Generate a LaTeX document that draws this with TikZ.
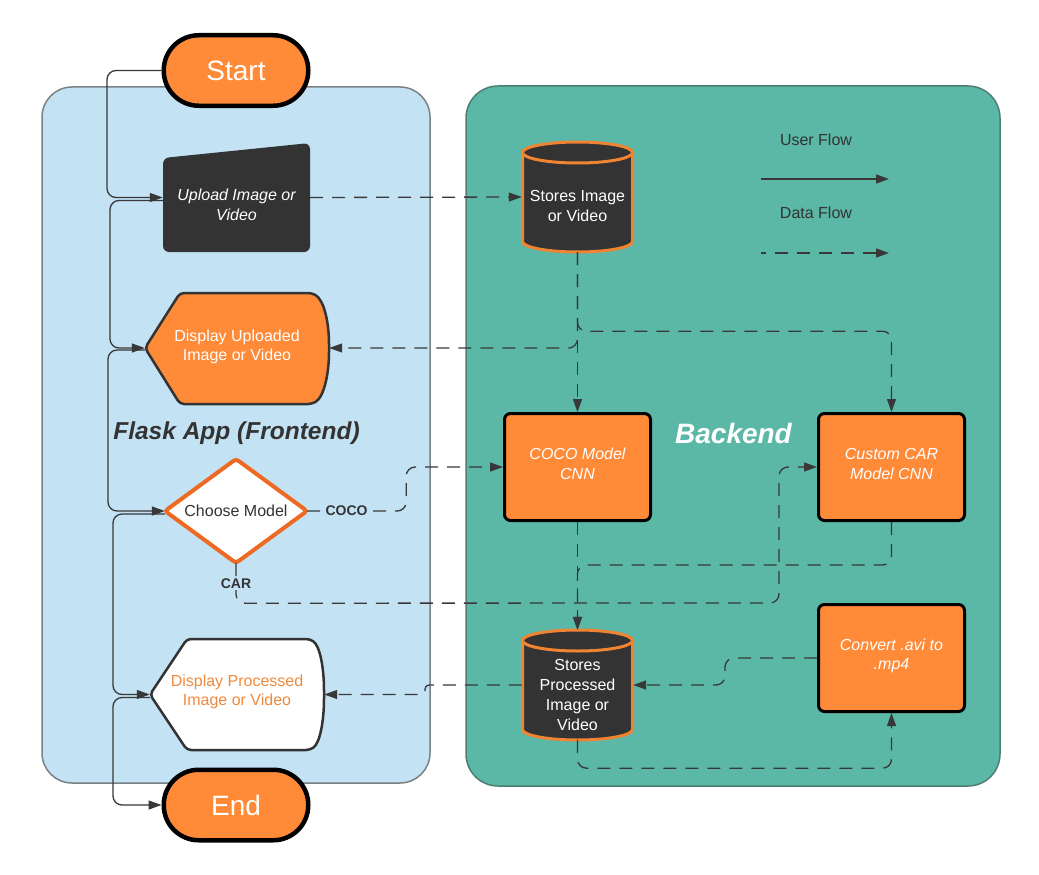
\documentclass[tikz,border=0pt]{standalone}
\usepackage{fontspec}
\setmainfont{Liberation Sans}
\usetikzlibrary{arrows.meta,calc}
\definecolor{fbg}{HTML}{C3E3F5}
\definecolor{bbg}{HTML}{5BB8A6}
\definecolor{orng}{HTML}{FF8A38}
\definecolor{dark}{HTML}{333333}
\definecolor{redor}{HTML}{EE6A22}
\definecolor{cylor}{HTML}{F08433}
\definecolor{linec}{HTML}{383838}
\definecolor{panelb}{HTML}{7A8285}
\definecolor{backb}{HTML}{4E7E76}
\definecolor{proctxt}{HTML}{F08A3E}
\tikzset{
  txt/.style={font=\fontsize{16}{19.5}\selectfont, align=center, inner sep=0pt},
  anchorbox/.style={draw=none, inner sep=0pt, minimum width=#1},
  terminal/.style={draw=black, line width=4.5pt, fill=orng, rounded corners=35pt,
    minimum width=144.5pt, minimum height=70.5pt, inner sep=0pt, text=white,
    font=\fontsize{28}{32}\selectfont},
  procbox/.style={draw=black, line width=3pt, fill=orng, rounded corners=6pt,
    minimum width=146pt, minimum height=107pt, inner sep=0pt, text=white,
    font=\fontsize{16}{19.5}\selectfont\itshape, align=center},
  tip/.style={-{Triangle[length=13pt,width=9pt]}},
  uflow/.style={draw=linec, line width=1.3pt, rounded corners=9pt, tip},
  dflow/.style={uflow, dash pattern=on 13pt off 9pt},
  lbl/.style={font=\fontsize{14}{16}\selectfont\bfseries, text=dark, fill=fbg, inner sep=1.5pt},
}
\begin{document}
\begin{tikzpicture}[x=1pt,y=-1pt]
\useasboundingbox (0,0) rectangle (1039,875);
\fill[white] (0,0) rectangle (1039,875);

% panels
\draw[fill=fbg, draw=panelb, line width=1.5pt, rounded corners=30pt] (42,87) rectangle (430,783);
\draw[fill=bbg, draw=backb, line width=1.5pt, rounded corners=32pt] (466,86) rectangle (1000,786);

% shapes
\fill[dark, rounded corners=6pt] (163,158) -- (310,143) -- (310,252) -- (163,252) -- cycle;
\draw[fill=orng, draw=dark, line width=2.5pt, rounded corners=4pt]
  (180,293) -- (312,293) .. controls (324,300) and (329,322) .. (329,348)
  .. controls (329,374) and (324,397) .. (312,404) -- (180,404) -- (145,348) -- cycle;
\draw[fill=white, draw=dark, line width=2.5pt, rounded corners=4pt]
  (187,639) -- (310,639) .. controls (320,646) and (324,668) .. (324,694.5)
  .. controls (324,721) and (320,743) .. (310,750) -- (187,750) -- (150,694.5) -- cycle;
\draw[fill=white, draw=redor, line width=4pt, rounded corners=3pt]
  (236,459) -- (307,511) -- (236,563) -- (165,511) -- cycle;
% cylinders
\foreach \cy in {142,630}{
  \draw[fill=dark, draw=cylor, line width=3pt]
    (522.5,\cy+10.5) -- (522.5,\cy+99.5)
    .. controls (522.5,\cy+105.3) and (547.1,\cy+110) .. (577.5,\cy+110)
    .. controls (607.9,\cy+110) and (632.5,\cy+105.3) .. (632.5,\cy+99.5)
    -- (632.5,\cy+10.5) -- cycle;
  \draw[fill=dark, draw=cylor, line width=3pt] (577.5,\cy+10.5) ellipse [x radius=55pt, y radius=10.5pt];
}

% nodes
\node[terminal] (start) at (236,70.5) {Start};
\node[terminal] (end) at (236,805) {End};
\node[anchorbox=147pt, minimum height=109pt] (upload) at (236.5,197.5) {};
\node[txt, text=white, font=\fontsize{16}{19.5}\selectfont\itshape] (uploadtxt) at (236.5,205) {Upload Image or\\Video};
\node[anchorbox=184pt, minimum height=111pt] (dispup) at (237,348) {};
\node[txt, text=white] (dispuptxt) at (237,347) {Display Uploaded\\Image or Video};
\node[anchorbox=142pt, minimum height=104pt] (choose) at (236,511) {};
\node[txt, text=dark] (choosetxt) at (236,511) {Choose Model};
\node[anchorbox=174pt, minimum height=111pt] (dispproc) at (237,694.5) {};
\node[txt, text=proctxt] (dispproctxt) at (237,692) {Display Processed\\Image or Video};
\node[font=\fontsize{24.5}{28}\selectfont\bfseries\itshape, text=dark, inner sep=0pt] (flask) at (236.5,433) {Flask App (Frontend)};

\node[anchorbox=111pt, minimum height=110pt] (cyl1) at (577.5,197) {};
\node[txt, text=white] (cyl1txt) at (577.5,206) {Stores Image\\or Video};
\node[anchorbox=111pt, minimum height=110pt] (cyl2) at (577.5,685) {};
\node[txt, text=white, font=\fontsize{16}{20}\selectfont] (cyl2txt) at (577.5,695) {Stores\\Processed\\Image or\\Video};
\node[procbox] (coco) at (577.5,467) {};
\node[txt, text=white, font=\fontsize{16}{19.5}\selectfont\itshape] (cocotxt) at (577.5,464) {COCO Model\\CNN};
\node[procbox] (custom) at (891.5,467) {};
\node[txt, text=white, font=\fontsize{16}{19.5}\selectfont\itshape] (customtxt) at (891.5,464) {Custom CAR\\Model CNN};
\node[procbox] (convert) at (891.5,658) {};
\node[txt, text=white, font=\fontsize{16}{19.5}\selectfont\itshape] (converttxt) at (891.5,656) {Convert .avi to\\.mp4};
\node[font=\fontsize{28}{32}\selectfont\bfseries\itshape, text=white, inner sep=0pt] (backend) at (733.5,433) {Backend};

% legend
\node[txt, text=dark] (legu) at (816,140) {User Flow};
\node[txt, text=dark] (legd) at (816,213) {Data Flow};
\coordinate (lu1) at (761,179);
\coordinate (lu2) at (889,179);
\coordinate (ld1) at (761,253);
\coordinate (ld2) at (889,253);
\draw[uflow] (lu1) -- (lu2);
\draw[dflow, dash phase=8pt] (ld1) -- (ld2);

% user flow
\draw[uflow] (start.west) -- (107,70.5) |- (upload.west);
\draw[uflow] ($(upload.west)+(0,3)$) -- (110,200.5) |- (dispup.west);
\draw[uflow] ($(dispup.west)+(0,2)$) -- (108,350) |- (choose.west);
\draw[uflow] ($(choose.west)+(0,3)$) -- (113,514) |- (dispproc.west);
\draw[uflow] ($(dispproc.west)+(0,3)$) -- (113,697.5) |- (end.west);

% data flow
\draw[dflow] (upload.east) -- (cyl1.west);
\draw[dflow] (cyl1.south) |- (dispup.east);
\draw[dflow] (cyl1.south) -- (coco.north);
\draw[dflow] (cyl1.south) -- ++(0,79) -| (custom.north);
\draw[dflow] (choose.east) -- ++(99,0) |- (coco.west);
\draw[dflow] (choose.south) -- ++(0,40) -- (779,603) |- (custom.west);
\draw[dflow] (coco.south) -- (cyl2.north);
\draw[dflow] (custom.south) -- ++(0,43) -| (cyl2.north);
\draw[dflow, rounded corners=4pt] (cyl2.west) -- (425,685) |- (dispproc.east);
\draw[dflow] (convert.west) -- (725,658) |- (cyl2.east);
\draw[dflow] (cyl2.south) -- ++(0,28) -| (convert.south);

% labels on connectors
\node[lbl] (cocolbl) at (346.5,511) {COCO};
\node[lbl] (carlbl) at (236,584) {CAR};
\end{tikzpicture}
\end{document}
